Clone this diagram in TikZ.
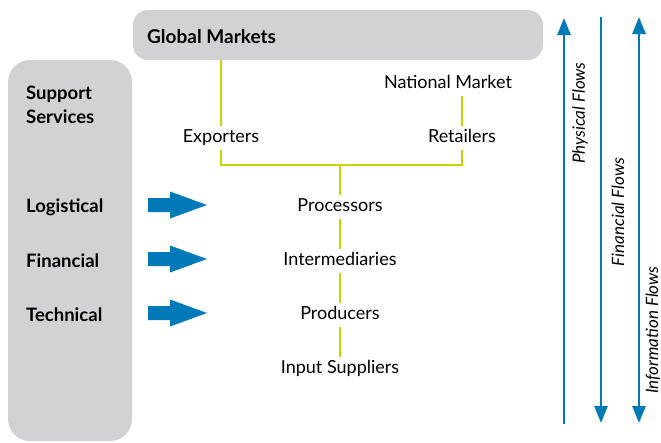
\documentclass[tikz,border=0pt]{standalone}
\usepackage{fontspec}
\setmainfont{Lato}
\usetikzlibrary{arrows.meta}
\definecolor{boxgray}{HTML}{D1D2D4}
\definecolor{flowblue}{HTML}{0079B8}
\definecolor{linkgreen}{HTML}{C8D400}
\tikzset{
  panel/.style={fill=boxgray, draw=none},
  chain/.style={font=\fontsize{18}{21}\selectfont, text height=12.5pt, text depth=4pt, inner xsep=2pt, inner ysep=4pt},
  svc/.style={font=\fontsize{18.5}{22}\selectfont\bfseries, anchor=west, inner sep=0pt},
  link/.style={draw=linkgreen, line width=1.6pt},
  flow/.style={draw=flowblue, line width=2.6pt},
  flowtip/.style={-{Triangle[width=13pt,length=17pt]}},
  flowlab/.style={font=\fontsize{17}{20}\selectfont\itshape, rotate=90},
}
\begin{document}
\begin{tikzpicture}[x=1pt,y=-1pt]
\useasboundingbox (0,0) rectangle (661,442);
% panels
\node[panel, rounded corners=15pt, minimum width=410pt, minimum height=50pt, inner sep=0pt] (gm) at (338,35) {};
\node[svc, font=\fontsize{19}{22}\selectfont\bfseries] (gmlab) at (147,37) {Global Markets};
\fill[boxgray, rounded corners=22pt] (8,60) rectangle (132,441);
\node[svc, align=left, font=\fontsize{18.5}{24}\selectfont\bfseries] (ss) at (26,105) {Support\\Services};
\node[svc] (log) at (26,207) {Logistical};
\node[svc] (fin) at (26,261) {Financial};
\node[svc] (tec) at (26,315) {Technical};
% fat arrows
\foreach \n/\y in {a1/205,a2/259,a3/313}{
  \fill[flowblue] (148,\y-7) -- (170,\y-7) -- (170,\y-13.5) -- (207,\y) -- (170,\y+13.5) -- (170,\y+7) -- (148,\y+7) -- cycle;
}
% chain nodes
\node[chain] (ex) at (221,138) {Exporters};
\node[chain] (re) at (462,138) {Retailers};
\node[chain] (nm) at (448,84) {National Market};
\node[chain] (pr) at (340,207) {Processors};
\node[chain] (im) at (340,261) {Intermediaries};
\node[chain] (pd) at (340,315) {Producers};
\node[chain] (is) at (340,369) {Input Suppliers};
\coordinate (j) at (340,165);
% links
\draw[link] (gm.south -| ex.north) -- (ex.north);
\draw[link] (nm.south -| re.north) -- (re.north);
\draw[link] (ex.south) |- (j) -| (re.south);
\draw[link] (j) -- (pr.north);
\draw[link] (pr) -- (im);
\draw[link] (im) -- (pd);
\draw[link] (pd) -- (is);
% flows
\coordinate (p0) at (564,424); \coordinate (p1) at (564,18);
\coordinate (f0) at (601,17);  \coordinate (f1) at (601,423);
\coordinate (i0) at (639,17);  \coordinate (i1) at (639,423);
\draw[flow, flowtip] (p0) -- (p1);
\draw[flow, flowtip] (f0) -- (f1);
\draw[flow, {Triangle[width=13pt,length=17pt]}-{Triangle[width=13pt,length=17pt]}] (i0) -- (i1);
\node[flowlab] (pl) at (580,113) {Physical Flows};
\node[flowlab] (fl) at (618,212) {Financial Flows};
\node[flowlab] (il) at (653,330) {Information Flows};
\end{tikzpicture}
\end{document}
